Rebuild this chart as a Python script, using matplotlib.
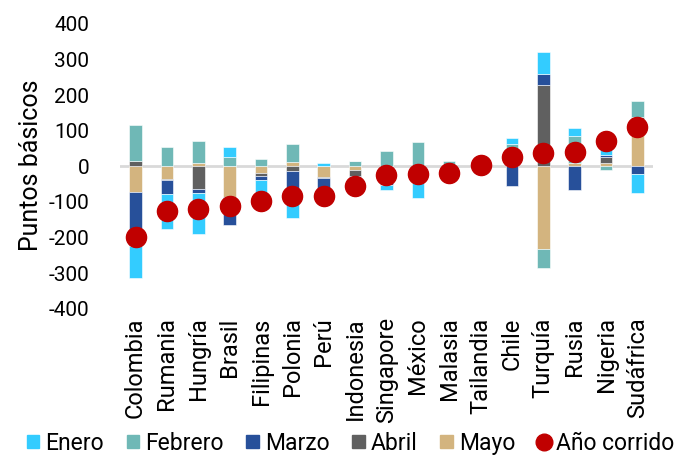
import numpy as np
import matplotlib
matplotlib.use("Agg")
import matplotlib.pyplot as plt
from matplotlib.lines import Line2D
from matplotlib.patches import Patch

plt.rcParams['font.family'] = ['Roboto', 'DejaVu Sans']
plt.rcParams['axes.unicode_minus'] = False

# data (puntos basicos)
paises = ["Colombia", "Rumania", "Hungría", "Brasil", "Filipinas", "Polonia", "Perú",
          "Indonesia", "Singapore", "México", "Malasia", "Tailandia", "Chile",
          "Turquía", "Rusia", "Nigeria", "Sudáfrica"]
enero = [-90, -99, -115, 29, -79, -62, 8, 0, -14, -41, -14, 25, 17, 63, 22, 51, -52]
febrero = [99, 53, 61, 25, 22, 50, 0, 16, 40, 67, 16, -20, 63, -52, 75, -11, 45]
marzo = [-151, -40, -11, -80, -11, -70, -56, -44, -51, -47, -20, 0, -55, 31, -67, 6, -22]
abril = [16, -3, -64, 0, -9, -14, -4, -15, 0, 0, 0, 0, 0, 227, 0, 17, 8]
mayo = [-73, -35, 9, -85, -19, 13, -30, -11, 2, 0, 0, 0, 0, -232, 10, 9, 131]
ano_corrido = [-199, -124, -120, -111, -96, -83, -82, -54, -23, -21, -18, 5, 25, 37, 40, 72, 110]

meses = ["Enero", "Febrero", "Marzo", "Abril", "Mayo"]
colores = ["#33ccff", "#6fb8b6", "#27509a", "#606060", "#d3b47f"]
series = [enero, febrero, marzo, abril, mayo]

fig = plt.figure(figsize=(6.81, 4.57), dpi=100)
ax = fig.add_axes([0.176, 0.324, 0.783, 0.624])

x = np.arange(len(paises))
pos_base = np.zeros(len(paises))
neg_base = np.zeros(len(paises))

# stacked outward from zero: Mayo, Abril, Marzo, Febrero, Enero
for i in [4, 3, 2, 1, 0]:
    v = np.array(series[i], dtype=float)
    base = np.where(v >= 0, pos_base, neg_base)
    ax.bar(x, v, 0.4, bottom=base, color=colores[i], edgecolor='white',
           linewidth=0.4, zorder=2)
    pos_base += np.where(v > 0, v, 0)
    neg_base += np.where(v < 0, v, 0)

ax.axhline(0, color='#d9d9d9', lw=2, zorder=1)
ax.plot(x, ano_corrido, 'o', color='#c00000', markersize=14.5, zorder=3)

ax.set_xlim(-0.5, len(paises) - 0.5)
ax.set_ylim(-400, 400)
ax.set_yticks(range(-400, 401, 100))
ax.set_yticklabels([str(t) for t in range(-400, 401, 100)])
ax.set_xticks(x)
ax.set_xticklabels(paises, rotation=90)
ax.tick_params(axis='x', length=0, labelsize=17, pad=6)
ax.tick_params(axis='y', length=0, labelsize=15, pad=22)
for s in ax.spines.values():
    s.set_visible(False)
fig.text(31 / 681, 0.639, "Puntos básicos", rotation=90, ha='center',
         va='center', fontsize=18)

handles = [Patch(color=c, label=m) for c, m in zip(colores, meses)]
handles.append(Line2D([], [], marker='o', ls='none', color='#c00000',
                      markersize=12, label='Año corrido'))
fig.legend(handles=handles, loc='lower center', bbox_to_anchor=(0.515, -0.04),
           ncol=6, frameon=False, fontsize=16.5, handlelength=0.55,
           handleheight=0.55, handletextpad=0.25, columnspacing=1.0)

fig.savefig("out.png", dpi=100)
